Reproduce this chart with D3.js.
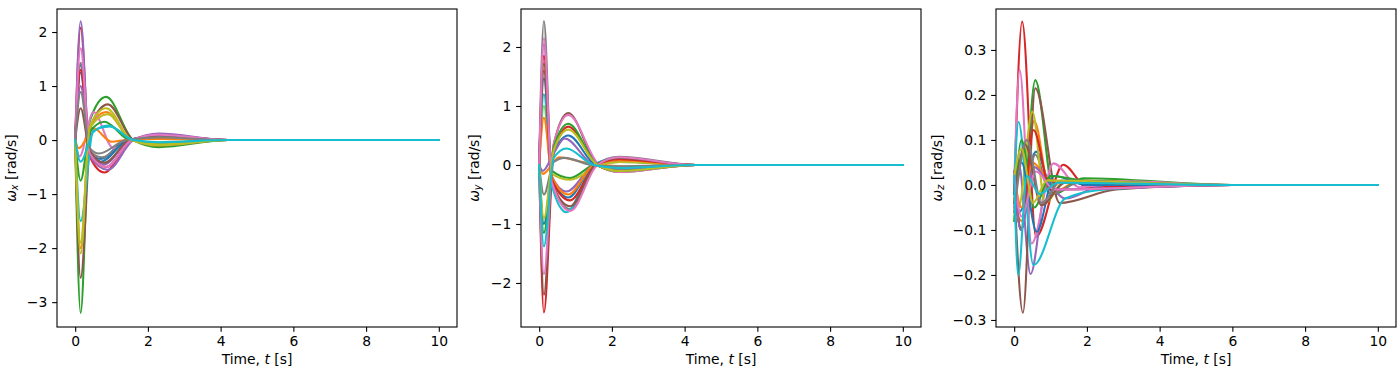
<!DOCTYPE html>
<html>
<head>
<meta charset="utf-8">
<script src="https://cdn.jsdelivr.net/npm/d3@7"></script>
<style>
  html, body { margin: 0; padding: 0; background: #fff; }
  svg { display: block; }
</style>
</head>
<body>
<svg id="chart" width="1400" height="377"></svg>
<script>
// angular-rate time histories: [t (s), value (rad/s)] keypoints per run
const wxLines = [
  [[0,0],[0.15,1.39],[0.4,-0.25],[0.7,-0.35],[1.4,0],[2.3,0.05],[4.2,0],[10,0]],
  [[0,0],[0.15,-2.0],[0.4,0.25],[0.85,0.52],[1.55,0],[2.3,-0.08],[4.2,0],[10,0]],
  [[0,0],[0.15,-3.2],[0.4,0.35],[0.85,0.8],[1.6,0],[2.3,-0.13],[4.2,0],[10,0]],
  [[0,0],[0.15,2.08],[0.4,-0.3],[0.8,-0.6],[1.55,0],[2.3,0.1],[4.2,0],[10,0]],
  [[0,0],[0.15,2.2],[0.4,-0.3],[0.9,-0.55],[1.6,0],[2.3,0.12],[4.2,0],[10,0]],
  [[0,0],[0.15,-2.55],[0.45,0.3],[0.9,0.66],[1.6,0],[2.3,-0.1],[4.2,0],[10,0]],
  [[0,0],[0.12,-0.3],[0.5,0.52],[1.05,-0.15],[1.65,0],[2.3,0.08],[4.2,0],[10,0]],
  [[0,0],[0.15,1.43],[0.4,-0.2],[0.75,-0.32],[1.45,0],[2.3,0.07],[4.2,0],[10,0]],
  [[0,0],[0.15,-2.1],[0.4,0.25],[0.85,0.59],[1.55,0],[2.3,-0.1],[4.2,0],[10,0]],
  [[0,0],[0.15,-1.5],[0.5,0.18],[0.95,0.25],[1.6,0],[2.3,-0.05],[4.2,0],[10,0]],
  [[0,0],[0.15,1.25],[0.4,-0.25],[0.7,-0.4],[1.45,0],[2.3,0.07],[4.2,0],[10,0]],
  [[0,0],[0.1,-0.15],[0.5,0.22],[1.0,-0.03],[1.4,0],[2.3,0.02],[4.2,0],[10,0]],
  [[0,0],[0.15,-0.75],[0.4,0.15],[0.8,0.34],[1.5,0],[2.3,-0.05],[4.2,0],[10,0]],
  [[0,0],[0.15,1.3],[0.4,-0.25],[0.85,-0.5],[1.55,0],[2.3,0.08],[4.2,0],[10,0]],
  [[0,0],[0.15,1.0],[0.4,-0.2],[0.8,-0.45],[1.5,0],[2.3,0.08],[4.2,0],[10,0]],
  [[0,0],[0.15,0.59],[0.4,-0.2],[0.8,-0.42],[1.5,0],[2.3,0.08],[4.2,0],[10,0]],
  [[0,0],[0.15,1.7],[0.4,-0.25],[0.85,-0.5],[1.55,0],[2.3,0.1],[4.2,0],[10,0]],
  [[0,0],[0.15,0.89],[0.4,-0.15],[0.65,-0.25],[1.4,0],[2.3,0.05],[4.2,0],[10,0]],
  [[0,0],[0.15,-1.9],[0.4,0.22],[0.9,0.48],[1.55,0],[2.3,-0.08],[4.2,0],[10,0]],
  [[0,0],[0.15,-0.4],[0.5,0.15],[0.9,0.27],[1.6,0],[2.3,-0.04],[4.2,0],[10,0]]
];

const wyLines = [
  [[0,0],[0.13,1.47],[0.35,-0.2],[0.8,-0.55],[1.5,0],[2.2,0.1],[4.3,0],[10,0]],
  [[0,0],[0.1,-0.15],[0.55,0.13],[1.2,0.05],[1.8,0],[2.5,-0.03],[4.3,0],[10,0]],
  [[0,0],[0.13,1.72],[0.35,-0.1],[0.85,-0.22],[1.5,0],[2.2,0.05],[4.3,0],[10,0]],
  [[0,0],[0.13,-2.5],[0.4,0.2],[0.8,0.65],[1.6,0],[2.2,-0.1],[4.3,0],[10,0]],
  [[0,0],[0.13,2.05],[0.35,-0.2],[0.75,-0.45],[1.5,0],[2.2,0.08],[4.3,0],[10,0]],
  [[0,0],[0.13,-2.2],[0.4,0.35],[0.8,0.88],[1.6,0],[2.2,-0.12],[4.3,0],[10,0]],
  [[0,0],[0.13,-1.85],[0.4,0.35],[0.8,0.85],[1.65,0],[2.2,-0.12],[4.3,0],[10,0]],
  [[0,0],[0.13,2.44],[0.35,-0.3],[0.85,-0.75],[1.55,0],[2.2,0.14],[4.3,0],[10,0]],
  [[0,0],[0.13,1.0],[0.35,-0.15],[0.85,-0.25],[1.65,0],[2.2,0.05],[4.3,0],[10,0]],
  [[0,0],[0.13,1.2],[0.35,-0.35],[0.75,-0.8],[1.5,0],[2.2,0.12],[4.3,0],[10,0]],
  [[0,0],[0.13,-1.0],[0.4,0.2],[0.8,0.5],[1.55,0],[2.2,-0.08],[4.3,0],[10,0]],
  [[0,0],[0.13,0.8],[0.35,-0.2],[0.8,-0.5],[1.5,0],[2.2,0.08],[4.3,0],[10,0]],
  [[0,0],[0.13,-1.15],[0.4,0.3],[0.8,0.7],[1.6,0],[2.2,-0.1],[4.3,0],[10,0]],
  [[0,0],[0.13,1.85],[0.35,-0.25],[0.85,-0.6],[1.55,0],[2.2,0.1],[4.3,0],[10,0]],
  [[0,0],[0.1,-0.1],[0.4,0.2],[0.7,0.45],[1.5,0],[2.2,-0.06],[4.3,0],[10,0]],
  [[0,0],[0.13,1.6],[0.35,-0.3],[0.85,-0.7],[1.55,0],[2.2,0.12],[4.3,0],[10,0]],
  [[0,0],[0.13,2.15],[0.35,-0.3],[0.85,-0.78],[1.6,0],[2.2,0.13],[4.3,0],[10,0]],
  [[0,0],[0.13,-0.5],[0.4,0.05],[0.7,0.12],[1.45,0],[2.2,-0.02],[4.3,0],[10,0]],
  [[0,0],[0.13,-0.9],[0.4,0.25],[0.8,0.6],[1.6,0],[2.2,-0.1],[4.3,0],[10,0]],
  [[0,0],[0.13,-1.38],[0.4,0.12],[0.75,0.28],[1.5,0],[2.2,-0.05],[4.3,0],[10,0]]
];

const wzLines = [
  [[0,0.02],[0.15,-0.06],[0.6,0.074],[1.1,-0.02],[1.8,0.01],[3.0,-0.005],[6,0],[10,0]],
  [[0,-0.03],[0.2,-0.08],[0.55,0.142],[1.0,-0.02],[1.8,0.01],[6,0],[10,0]],
  [[0,0],[0.2,-0.1],[0.58,0.233],[1.1,-0.02],[1.9,0.015],[6,0],[10,0]],
  [[0,-0.02],[0.22,0.363],[0.6,-0.115],[1.35,0.045],[2.0,-0.005],[6,0],[10,0]],
  [[0,-0.05],[0.12,0.05],[0.45,-0.198],[0.9,0.0],[1.4,-0.03],[2.5,0],[6,0],[10,0]],
  [[0,0],[0.24,-0.284],[0.58,0.215],[1.25,-0.04],[2.8,-0.01],[6,0],[10,0]],
  [[0,0],[0.15,0.256],[0.48,-0.13],[1.08,0.048],[1.8,-0.005],[3.0,0.008],[6,0],[10,0]],
  [[0,0.03],[0.18,-0.1],[0.58,0.067],[1.0,-0.02],[1.8,0.005],[6,0],[10,0]],
  [[0,-0.03],[0.12,-0.05],[0.5,0.163],[0.85,-0.04],[1.4,0.01],[6,0],[10,0]],
  [[0,0],[0.12,0.14],[0.53,-0.178],[1.4,-0.03],[2.5,-0.01],[6,0],[10,0]],
  [[0,-0.02],[0.2,0.05],[0.62,-0.104],[1.1,0.02],[2.0,0],[6,0],[10,0]],
  [[0,0.02],[0.2,-0.05],[0.5,0.05],[1.0,0.01],[6,0],[10,0]],
  [[0,-0.08],[0.2,0.1],[0.55,-0.05],[1.0,0.02],[1.9,0.01],[6,0],[10,0]],
  [[0,0],[0.2,-0.1],[0.53,0.122],[1.0,-0.01],[6,0],[10,0]],
  [[0,0.03],[0.18,-0.1],[0.55,0.04],[1.1,-0.01],[6,0],[10,0]],
  [[0,-0.04],[0.3,0.09],[0.75,-0.045],[1.4,0.005],[6,0],[10,0]],
  [[0,0.02],[0.2,-0.07],[0.6,0.03],[1.1,-0.01],[6,0],[10,0]],
  [[0,-0.06],[0.35,0.1],[0.75,-0.04],[1.3,0.01],[6,0],[10,0]],
  [[0,0.02],[0.2,0.08],[0.52,-0.04],[0.9,0.01],[6,0],[10,0]],
  [[0,0.02],[0.11,-0.2],[0.35,0.02],[0.7,-0.02],[1.2,0.005],[6,0],[10,0]]
];

const xTicks  = [0, 2, 4, 6, 8, 10];
const wxTicks = [-3, -2, -1, 0, 1, 2];
const wyTicks = [-2, -1, 0, 1, 2];
const wzTicks = [-0.3, -0.2, -0.1, 0.0, 0.1, 0.2, 0.3];

const panels = [
  { lines: wxLines, ticks: wxTicks, fmt: d3.format("d"),   sub: "x", left: 57,  yDomain: [-3.46, 2.426], labelX: 15.5 },
  { lines: wyLines, ticks: wyTicks, fmt: d3.format("d"),   sub: "y", left: 521, yDomain: [-2.746, 2.644], labelX: 478.5 },
  { lines: wzLines, ticks: wzTicks, fmt: d3.format(".1f"), sub: "z", left: 996, yDomain: [-0.3156, 0.391], labelX: 941.5 }
];

const FONT    = "'DejaVu Sans', sans-serif";
const FSIZE   = 13.89;
const plotTop = 9, plotBottom = 327, pw = 400;
const colors  = d3.schemeCategory10;

const svg = d3.select("#chart");

panels.forEach(p => {
  const x = d3.scaleLinear().domain([-0.5, 10.5]).range([p.left, p.left + pw]);
  const y = d3.scaleLinear().domain(p.yDomain).range([plotBottom, plotTop]);
  const g = svg.append("g");

  const line = d3.line().x(d => x(d[0])).y(d => y(d[1])).curve(d3.curveMonotoneX);
  g.selectAll("path.run").data(p.lines).join("path").attr("class", "run")
    .attr("d", line).attr("fill", "none")
    .attr("stroke", (_, i) => colors[i % 10]).attr("stroke-width", 2.08)
    .attr("stroke-linejoin", "round").attr("stroke-linecap", "square");

  g.append("g").attr("transform", `translate(0,${plotBottom})`)
    .call(d3.axisBottom(x).tickValues(xTicks).tickSize(4.86).tickPadding(4.2).tickSizeOuter(0))
    .call(a => a.select(".domain").remove())
    .call(a => a.selectAll("line").attr("stroke", "#000").attr("stroke-width", 1.1))
    .call(a => a.selectAll("text").attr("fill", "#000").style("font-family", FONT).style("font-size", FSIZE + "px"));

  g.append("g").attr("transform", `translate(${p.left},0)`)
    .call(d3.axisLeft(y).tickValues(p.ticks).tickFormat(p.fmt).tickSize(4.86).tickPadding(4.86).tickSizeOuter(0))
    .call(a => a.select(".domain").remove())
    .call(a => a.selectAll("line").attr("stroke", "#000").attr("stroke-width", 1.1))
    .call(a => a.selectAll("text").attr("fill", "#000").style("font-family", FONT).style("font-size", FSIZE + "px"));

  // frame (all four spines)
  g.append("rect").attr("x", p.left).attr("y", plotTop).attr("width", pw).attr("height", plotBottom - plotTop)
    .attr("fill", "none").attr("stroke", "#000").attr("stroke-width", 1.1);

  const xl = g.append("text").attr("x", p.left + pw / 2).attr("y", 364).attr("text-anchor", "middle")
    .style("font-family", FONT).style("font-size", FSIZE + "px").attr("fill", "#000");
  xl.append("tspan").text("Time, ");
  xl.append("tspan").style("font-style", "italic").text("t");
  xl.append("tspan").text(" [s]");

  const yl = g.append("text").attr("transform", `translate(${p.labelX},${(plotTop + plotBottom) / 2}) rotate(-90)`)
    .attr("text-anchor", "middle").style("font-family", FONT).style("font-size", FSIZE + "px").attr("fill", "#000");
  yl.append("tspan").style("font-style", "italic").text("ω");
  yl.append("tspan").style("font-style", "italic").style("font-size", "9.7px").attr("dy", 2.6).text(p.sub);
  yl.append("tspan").attr("dy", -2.6).text(" [rad/s]");
});
</script>
</body>
</html>
